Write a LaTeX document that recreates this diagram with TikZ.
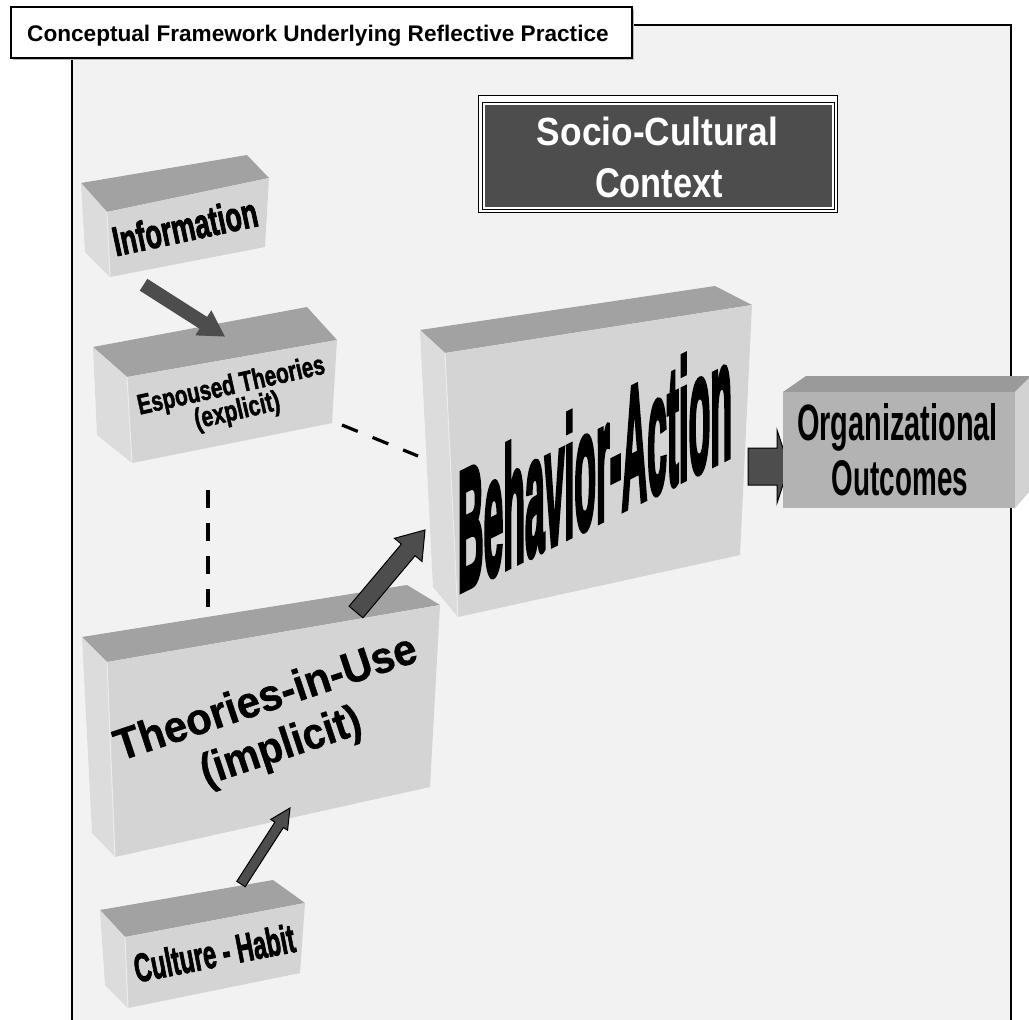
\documentclass[tikz,border=0pt]{standalone}
\usepackage{fontspec}
\setmainfont{Liberation Sans}
\newfontfamily\hvA[BoldFeatures={FakeBold=1}]{Liberation Sans}
\newfontfamily\hvB[BoldFeatures={FakeBold=2}]{Liberation Sans}
\newfontfamily\hvC[BoldFeatures={FakeBold=2.5}]{Liberation Sans}
\newfontfamily\hvD[BoldFeatures={FakeBold=4}]{Liberation Sans}
\usepackage{graphicx}
\usetikzlibrary{calc}
\definecolor{bgc}{HTML}{F2F2F2}
\definecolor{topc}{HTML}{A2A2A2}
\definecolor{frontc}{HTML}{D4D4D4}
\definecolor{sidec}{HTML}{DCDCDC}
\definecolor{arrowc}{HTML}{4D4D4D}
\definecolor{orgfront}{HTML}{B3B3B3}
\definecolor{orgtop}{HTML}{9A9A9A}
\definecolor{orgside}{HTML}{D2D2D2}
\newcommand\blockarrow[6][]{%
  \coordinate (bahead) at ($(#3)!#6!(#2)$);
  \filldraw[barrow,#1] ($(#2)!#4!90:(#3)$) -- ($(bahead)!#4!90:(#3)$) -- ($(bahead)!#5!90:(#3)$) -- (#3) -- ($(bahead)!#5!-90:(#3)$) -- ($(bahead)!#4!-90:(#3)$) -- ($(#2)!#4!-90:(#3)$) -- cycle;}
\begin{document}
\begin{tikzpicture}[x=1pt,y=-1pt,
  topface/.style={fill=topc},
  frontface/.style={fill=frontc},
  sideface/.style={fill=sidec},
  edgehl/.style={draw=white!55!frontc, line width=1pt},
  barrow/.style={fill=arrowc, draw=black, line width=1pt, line join=miter},
  dashline/.style={draw=black, line width=3.2pt},
  lbl/.style={inner sep=0pt, anchor=base},
]
\clip (0,0) rectangle (1029,1020);
\useasboundingbox (0,0) rectangle (1029,1020);
\fill[white] (0,0) rectangle (1029,1020);
% frame
\fill[bgc] (72,25) rectangle (1011,1025);
\draw[line width=1.5pt] (632,25) -- (1011,25) -- (1011,1025);
\draw[line width=1.5pt] (72,58) -- (72,1025);
% title
\fill[gray!55] (13,9) rectangle (634,60);
\draw[line width=1.2pt, fill=white] (11,7) rectangle (632,58);
\node[lbl, anchor=base west] (title) at (27,41) {\fontsize{22.6}{27}\selectfont\bfseries Conceptual Framework Underlying Reflective Practice};
% socio-cultural context
\draw[line width=1.5pt, fill=white] (478.5,95.5) rectangle (837.5,212.5);
\draw[line width=1pt] (482,102) rectangle (834,209);
\fill[arrowc] (484.5,104.5) rectangle (831.5,206.5);
\node[lbl, text=white] (socio1) at (657.5,145) {\resizebox{241pt}{28.5pt}{\bfseries Socio-Cultural}};
\node[lbl, text=white] (socio2) at (659,197) {\resizebox{128pt}{29pt}{\bfseries Context}};
% dashed connectors
\coordinate (espR) at (342,425);
\coordinate (behL) at (418,456);
\coordinate (espB) at (208,490);
\coordinate (theT) at (208,607);
\draw[dashline, dash pattern=on 17pt off 16pt] (espR) -- (behL);
\draw[dashline, dash pattern=on 18pt off 15pt] (espB) -- (theT);
% Information box
\fill[topface] (81,183) -- (247,155) -- (269,178) -- (107,212) -- cycle;
\fill[frontface] (107,212) -- (269,178) -- (265,247) -- (110,277) -- cycle;
\fill[sideface] (81,183) -- (107,212) -- (110,277) -- (85,252) -- cycle;
\draw[edgehl] (107,212) -- (110,277);
% Espoused box
\fill[topface] (93,347) -- (307,307) -- (337,340) -- (127,377) -- cycle;
\fill[frontface] (127,377) -- (337,340) -- (332,423) -- (132,463) -- cycle;
\fill[sideface] (93,347) -- (127,377) -- (132,463) -- (97,435) -- cycle;
\draw[edgehl] (127,377) -- (132,463);
% Behavior box
\fill[topface] (420,330) -- (715,286) -- (752,305) -- (445,353) -- cycle;
\fill[frontface] (445,353) -- (752,305) -- (740,555) -- (458,617) -- cycle;
\fill[sideface] (420,330) -- (445,353) -- (458,617) -- (433,587) -- cycle;
\draw[edgehl] (445,353) -- (458,617);
% Theories box
\fill[topface] (82,637) -- (407,585) -- (440,605) -- (107,662) -- cycle;
\fill[frontface] (107,662) -- (440,605) -- (430,787) -- (115,857) -- cycle;
\fill[sideface] (82,637) -- (107,662) -- (115,857) -- (92,833) -- cycle;
\draw[edgehl] (107,662) -- (115,857);
% Culture box
\fill[topface] (100,910) -- (273,880) -- (305,903) -- (125,937) -- cycle;
\fill[frontface] (125,937) -- (305,903) -- (300,973) -- (128,1008) -- cycle;
\fill[sideface] (100,910) -- (125,937) -- (128,1008) -- (105,985) -- cycle;
\draw[edgehl] (125,937) -- (128,1008);
% arrows
\coordinate (infoS) at (144,285);
\coordinate (espT) at (224,336);
\blockarrow[draw=arrowc]{infoS}{espT}{6.5pt}{14pt}{24pt}
\coordinate (theS) at (356,612);
\coordinate (behT) at (425,530);
\blockarrow{theS}{behT}{9pt}{18pt}{26pt}
\coordinate (culS) at (241,884);
\coordinate (theB) at (290,808);
\blockarrow{culS}{theB}{5pt}{10pt}{20pt}
\coordinate (behR) at (748,466.5);
\coordinate (orgL) at (789,466.5);
\blockarrow{behR}{orgL}{18.5pt}{36.5pt}{12pt}
% Organizational box
\fill[orgtop] (783,392) -- (806,376) -- (1031,376) -- (1015,392) -- cycle;
\fill[orgside] (1015,392) -- (1031,376) -- (1031,490) -- (1015,508) -- cycle;
\fill[orgfront] (783,392) -- (1015,392) -- (1015,508) -- (783,508) -- cycle;
% labels
\node[lbl, rotate=12] (info) at (188,241) {\resizebox{147pt}{30pt}{\hvC\bfseries Information}};
\node[lbl, rotate=12.5] (esp1) at (233,394) {\resizebox{191pt}{20.5pt}{\hvB\bfseries Espoused Theories}};
\node[lbl, rotate=13] (esp2) at (239,419) {\resizebox{87pt}{20.5pt}{\hvB\bfseries (explicit)}};
\node[lbl, yslant=0.5] (beh) at (595,523.5) {\resizebox{274pt}{123pt}{\hvD\bfseries Behavior-Action}};
\node[lbl] (org1) at (897.5,440) {\resizebox{201pt}{37pt}{\bfseries Organizational}};
\node[lbl] (org2) at (900,495) {\resizebox{136pt}{35pt}{\bfseries Outcomes}};
\node[lbl, rotate=18.5] (the1) at (270,711) {\resizebox{316pt}{32pt}{\hvA\bfseries Theories-in-Use}};
\node[lbl, rotate=18.5] (the2) at (285,759) {\resizebox{167pt}{32pt}{\hvA\bfseries (implicit)}};
\node[lbl, rotate=11] (cul) at (217,967) {\resizebox{163pt}{29pt}{\hvC\bfseries Culture - Habit}};
\end{tikzpicture}
\end{document}
